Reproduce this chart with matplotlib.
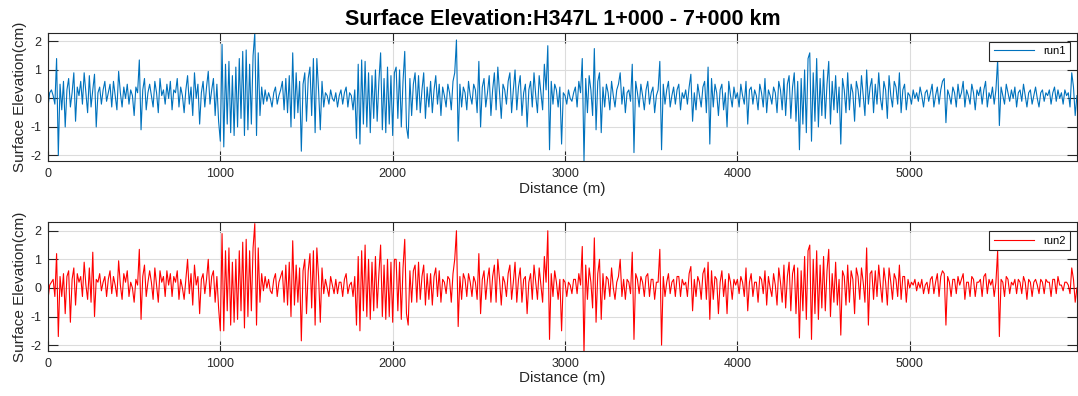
import numpy as np
import matplotlib
matplotlib.use("Agg")
import matplotlib.pyplot as plt

plt.rcParams['font.family'] = ['Liberation Sans', 'DejaVu Sans']
plt.rcParams['axes.unicode_minus'] = False

# sampling step of the profile (m)
step_m = 10

# surface elevation, run 1 (cm), one row = 100 m
run1 = [
    -0.3, 0.2, 0.3, 0.1, -0.2, 1.4, -2.0, 0.5, -0.4, 0.6,
    -1.0, 0.3, 0.7, -0.3, 0.2, 0.9, -0.8, 0.4, 0.1, 0.6,
    -0.2, 0.9, 0.2, -0.5, 0.8, -0.3, 0.3, 0.85, -1.0, 0.2,
    0.4, -0.2, 0.3, 0.6, -0.1, 0.2, 0.5, -0.3, 0.6, 0.1,
    -0.4, 0.95, 0.2, -0.3, 0.4, 0.0, 0.5, -0.2, 0.3, 0.1,
    -0.6, 0.4, 0.2, 1.35, -1.1, 0.3, 0.7, -0.4, 0.2, 0.5,
    0.1, -0.3, 0.6, 0.2, -0.5, 0.7, 0.1, 0.3, -0.2, 0.5,
    0.0, 0.6, -0.4, 0.3, 0.2, 0.7, -0.3, 0.4, 0.1, -0.5,
    0.3, 0.8, -0.2, 0.4, -0.6, 0.9, 0.0, 0.5, -0.9, 0.2,
    0.6, -0.3, 0.4, 0.95, -0.2, 0.3, 0.7, -0.6, 0.5, -0.8,
    -1.5, 1.9, -1.7, 1.2, -0.9, 1.3, -1.2, 0.8, -1.3, 1.1,
    -1.0, 1.4, -0.7, 1.65, -1.3, 1.7, -1.1, 1.2, -0.9, 1.5,
    2.3, -1.3, 1.6, -0.6, 0.4, -0.2, 0.3, -0.1, 0.2, 0.0,
    -0.3, 0.2, 0.4, -0.2, 0.1, 0.3, 0.6, -0.4, 0.7, -0.5,
    0.8, -1.0, 1.6, -0.7, 0.9, -0.5, 0.6, -1.85, 0.5, 0.9,
    -0.8, 0.7, 1.1, -0.6, 1.4, -1.2, 1.4, 0.3, -1.1, 0.6,
    -0.3, 0.2, 0.1, -0.2, 0.3, 0.0, -0.1, 0.2, -0.3, 0.1,
    0.3, -0.2, 0.2, 0.4, -0.3, 0.2, 0.1, -0.4, 0.3, -1.4,
    1.2, -1.6, 1.35, -0.9, 1.3, -1.0, 0.9, -1.2, 0.8, -0.7,
    1.0, -0.8, 0.6, 1.6, -1.1, 0.7, -1.2, 1.1, -0.9, 0.8,
    -1.3, 0.9, 1.1, -0.7, 1.0, -1.0, 0.6, 1.65, -1.0, -1.4,
    0.7, -0.6, 0.5, 0.9, -0.4, 0.8, -0.5, 0.3, 0.9, -0.7,
    0.4, -0.3, 0.6, -0.5, 0.3, 0.8, -0.2, 0.5, -0.6, 0.4,
    0.1, -0.3, 0.5, 0.2, -0.4, 0.6, 0.9, 2.05, -1.5, 0.5,
    -0.3, 0.4, 0.2, -0.4, 0.6, 0.1, -0.2, 0.5, 0.3, -0.5,
    1.3, -1.0, 0.4, 0.7, -0.3, 0.2, 0.8, -0.6, 0.3, 0.9,
    -0.4, 1.1, 0.2, -0.7, 0.5, 0.3, -0.2, 0.6, 0.9, -0.5,
    0.3, 1.0, -0.4, 0.4, 0.8, -0.6, 0.2, 0.5, -1.0, 0.3,
    0.6, -0.3, 0.9, 0.1, -0.5, 0.8, 0.2, -0.4, 1.2, 0.3,
    1.85, -1.8, 0.6, -0.2, 0.5, 0.3, -0.3, 0.4, -1.6, 0.2,
    0.1, -0.2, 0.3, 0.0, -0.1, 0.2, 0.4, -0.3, 0.6, 0.2,
    1.4, -2.2, 0.7, -0.5, 0.8, 0.3, -0.6, 1.75, -1.1, 0.6,
    0.9, -1.2, 0.4, -0.3, 0.5, 0.2, -0.4, 0.6, 0.1, -0.3,
    0.3, 0.5, 0.9, -0.2, 0.4, -0.5, 0.2, 0.3, -0.1, 1.2,
    -1.9, 0.6, 0.2, -0.3, 0.5, 0.1, -0.4, 0.3, 0.6, -0.2,
    0.2, 0.4, -0.5, 0.1, 0.3, 1.3, -1.8, 0.5, -0.2, 0.3,
    0.6, -0.3, 0.1, 0.4, -0.2, 0.3, 0.5, -0.4, 0.2, 0.0,
    0.3, -0.2, 0.4, 0.85, -0.8, 0.2, -0.4, 0.5, 0.1, -0.3,
    0.4, 0.6, -0.5, 1.1, -1.6, 0.7, -0.3, 0.5, 0.2, -0.6,
    0.3, 0.5, -0.4, 0.2, -1.0, 0.6, 0.1, -0.3, 0.4, 0.0,
    0.2, -0.3, 0.5, 0.1, -0.2, 0.6, -0.9, 0.3, 0.4, -0.2,
    0.3, 0.1, -0.4, 0.5, 0.2, -0.3, 0.7, -0.5, 0.3, 0.1,
    -0.2, 0.4, 0.2, -0.5, 0.6, 0.3, -0.4, 0.7, -0.6, 0.5,
    0.8, -0.7, 0.4, 0.9, -0.8, 0.6, -1.8, 0.7, -0.9, 1.0,
    -1.2, 1.4, 1.6, -1.5, 0.9, -0.8, 1.4, -1.0, 0.7, -0.6,
    1.0, -0.7, 0.5, 1.3, -0.9, 0.6, -0.4, 0.8, -0.5, 0.4,
    -1.6, 0.7, 0.3, -0.5, 0.9, -0.4, 0.5, 0.2, -0.8, 0.6,
    0.3, -0.3, 0.8, 0.1, -0.6, 1.0, -0.2, 0.4, 0.7, -0.5,
    0.5, -0.2, 0.9, 0.0, -0.4, 0.6, 0.3, -0.7, 0.8, 0.1,
    -0.3, 0.6, 0.4, -0.2, 0.9, -0.5, 0.3, 0.5, -0.4, 0.2,
    0.1, -0.2, 0.3, 0.0, 0.2, -0.1, 0.4, 0.1, -0.3, 0.2,
    0.3, -0.1, 0.2, 0.5, -0.3, 0.1, 0.4, -0.2, 0.3, 0.6,
    0.7, -0.85, 0.3, 0.1, -0.2, 0.4, 0.2, -0.3, 0.5, 0.0,
    0.2, 0.6, -0.3, 0.3, 0.1, -0.2, 0.5, 0.2, -0.4, 0.3,
    0.1, 0.4, -0.2, 0.3, 0.6, -0.3, 0.2, 0.0, 0.4, -0.2,
    0.3, 1.35, -0.95, 0.4, 0.1, -0.2, 0.5, 0.2, -0.1, 0.3,
    0.0, 0.4, -0.3, 0.2, 0.3, -0.1, 0.5, 0.1, -0.3, 0.2,
    0.3, -0.2, 0.1, 0.4, 0.0, -0.3, 0.2, 0.3, -0.1, 0.2,
    0.1, 0.3, -0.2, 0.2, 0.4, -0.1, 0.3, 0.0, 0.2, -0.2,
    0.3, 0.1, 0.2, -0.3, 0.9, 0.4, -0.6, 0.1,
]

# surface elevation, run 2 (cm)
run2 = [
    -0.4, 0.1, 0.2, 0.3, -0.3, 1.2, -1.7, 0.4, -0.3, 0.5,
    -0.9, 0.4, 0.6, -1.2, 0.3, 0.7, -0.6, 0.5, 0.2, 0.4,
    -0.3, 0.9, 0.1, -0.4, 0.7, -0.5, 1.25, -1.0, 0.3, 0.2,
    0.5, -0.1, 0.2, 0.4, -0.3, 0.3, 0.6, -0.2, 0.4, 0.1,
    -0.3, 0.95, 0.1, -0.4, 0.5, 0.2, 0.6, -0.3, 0.2, 0.0,
    -0.5, 0.3, 0.1, 1.35, -1.1, 0.4, 0.8, -0.3, 0.2, 0.6,
    0.2, -0.4, 0.7, 0.1, -0.5, 0.6, 0.2, 0.4, -0.3, 0.6,
    0.1, 0.5, -0.3, 0.4, 0.2, 0.6, -0.4, 0.3, 0.0, -0.4,
    0.3, 1.0, -0.2, 0.5, -0.6, 0.8, 0.1, 0.4, -0.9, 0.3,
    0.5, -0.2, 0.3, 1.0, -0.3, 0.4, 0.6, -0.5, 0.4, -0.7,
    -1.5, 1.9, -1.5, 1.3, -0.8, 1.4, -1.3, 0.9, -1.2, 1.0,
    -1.1, 1.3, -0.8, 1.6, -1.4, 1.7, -1.0, 1.3, -0.8, 1.4,
    2.25, -1.3, 1.4, -0.5, 0.5, -0.1, 0.4, 0.0, 0.3, -0.1,
    -0.2, 0.3, 0.5, -0.3, 0.2, 0.4, 0.6, -0.5, 0.8, -0.6,
    0.9, -1.0, 1.65, -0.6, 0.8, -0.5, 0.7, -1.85, 0.6, 1.0,
    -0.9, 0.6, 1.2, -0.7, 1.3, -1.3, 1.4, 0.4, -1.2, 0.7,
    -0.2, 0.3, 0.0, -0.3, 0.4, 0.1, -0.2, 0.3, -0.2, 0.2,
    0.2, -0.3, 0.3, 0.5, -0.2, 0.1, 0.2, -0.3, 0.4, -1.3,
    1.1, -1.5, 1.3, -0.8, 1.5, -1.0, 1.0, -1.1, 0.9, -0.8,
    1.1, -0.7, 0.5, 1.5, -1.0, 0.8, -1.1, 1.0, -1.0, 0.9,
    -1.2, 1.0, 1.0, -0.8, 0.9, -1.1, 0.7, 1.7, -0.9, -1.3,
    0.6, -0.5, 0.6, 0.8, -0.5, 0.9, -0.4, 0.4, 0.8, -0.6,
    0.5, -0.4, 0.5, -0.6, 0.4, 0.7, -0.3, 0.6, -0.5, 0.3,
    0.2, -0.2, 0.4, 0.3, -0.5, 0.5, 1.0, 2.0, -1.35, 0.4,
    -0.4, 0.5, 0.3, -0.3, 0.5, 0.2, -0.3, 0.4, 0.2, -0.4,
    1.2, -0.9, 0.3, 0.6, -0.4, 0.3, 0.7, -0.5, 0.4, 0.8,
    -0.5, 1.0, 0.3, -0.6, 0.4, 0.2, -0.3, 0.5, 0.8, -0.4,
    0.2, 0.9, -0.5, 0.3, 0.7, -0.5, 0.3, 0.4, -0.9, 0.2,
    0.5, -0.4, 0.8, 0.2, -0.4, 0.7, 0.1, -0.5, 1.1, 0.2,
    2.0, -1.8, 0.5, -0.3, 0.6, 0.2, -0.4, 0.3, -1.5, 0.3,
    0.2, -0.3, 0.2, 0.1, -0.2, 0.3, 0.3, -0.2, 0.5, 0.1,
    1.45, -2.3, 0.8, -0.4, 0.7, 0.2, -0.7, 1.75, -1.2, 0.5,
    1.0, -1.1, 0.5, -0.4, 0.4, 0.3, -0.3, 0.7, 0.0, -0.4,
    0.2, 0.4, 1.0, -0.3, 0.3, -0.4, 0.3, 0.2, -0.2, 1.25,
    -1.8, 0.5, 0.3, -0.2, 0.4, 0.2, -0.3, 0.4, 0.5, -0.3,
    0.3, 0.3, -0.4, 0.2, 0.2, 1.35, -2.0, 0.4, -0.3, 0.2,
    0.5, -0.2, 0.2, 0.3, -0.3, 0.4, 0.4, -0.3, 0.3, 0.1,
    0.2, -0.3, 0.5, 0.75, -0.8, 0.3, -0.3, 0.4, 0.2, -0.4,
    0.5, 0.7, -0.4, 0.9, -1.1, 0.6, -0.4, 0.4, 0.3, -0.9,
    0.2, 0.6, -0.3, 0.3, -0.9, 0.5, 0.2, -0.4, 0.3, 0.1,
    0.3, -0.2, 0.4, 0.2, -0.3, 0.7, -0.8, 0.2, 0.5, -0.3,
    0.2, 0.2, -0.5, 0.4, 0.3, -0.2, 0.6, -0.6, 0.4, 0.0,
    -0.3, 0.5, 0.1, -0.6, 0.7, 0.2, -0.5, 0.8, -0.7, 0.4,
    0.9, -0.8, 0.5, 0.8, -0.9, 0.7, -1.75, 0.6, -0.8, 1.1,
    -1.1, 1.3, 1.5, -1.8, 1.0, -0.9, 1.3, -1.1, 0.8, -0.7,
    1.1, -0.8, 0.6, 1.35, -1.0, 0.5, -0.5, 0.9, -0.6, 0.3,
    -1.65, 0.6, 0.4, -0.6, 0.8, -0.5, 0.6, 0.3, -0.9, 0.7,
    0.4, -0.4, 0.7, 0.2, -0.5, 1.4, -1.3, 0.5, 0.6, -0.4,
    0.6, -0.3, 0.8, 0.1, -0.5, 0.7, 0.2, -0.6, 0.7, 0.2,
    -0.4, 0.5, 0.3, -0.3, 0.8, -0.4, 0.4, 0.4, -0.5, 0.3,
    0.0, 0.2, 0.1, 0.3, -0.1, 0.2, 0.0, 0.3, -0.2, 0.1,
    0.2, -0.2, 0.3, 0.4, -0.2, 0.2, 0.5, -0.3, 0.4, 0.6,
    0.5, -1.3, 0.4, 0.2, -0.3, 0.3, 0.3, -0.2, 0.4, 0.1,
    0.3, 0.5, -0.4, 0.2, 0.2, -0.3, 0.4, 0.3, -0.3, 0.2,
    0.2, 0.3, -0.3, 0.4, 0.5, -0.2, 0.3, 0.1, 0.3, -0.3,
    0.2, 1.3, -1.7, 0.3, 0.2, -0.3, 0.4, 0.3, -0.2, 0.2,
    0.1, 0.3, -0.2, 0.3, 0.2, -0.2, 0.4, 0.2, -0.4, 0.3,
    0.2, -0.3, 0.2, 0.3, 0.1, -0.2, 0.3, 0.2, -0.2, 0.3,
    0.2, 0.2, -0.3, 0.3, 0.3, -0.2, 0.4, 0.1, 0.1, -0.1,
    0.2, 0.2, 0.1, -0.2, 0.7, 0.3, -0.5, 0.0,
]

runs = [("run1", run1, "#0072BD"), ("run2", run2, "#FF0000")]
title = "Surface Elevation:H347L 1+000 - 7+000 km"
yticks = [-2, -1, 0, 1, 2]
xticks = [0, 1000, 2000, 3000, 4000, 5000]

fig = plt.figure(figsize=(10.78, 3.96), dpi=100)
axes_boxes = [[0.0445, 0.593, 0.9545, 0.324], [0.0445, 0.114, 0.9545, 0.325]]

for (name, vals, col), box in zip(runs, axes_boxes):
    ax = fig.add_axes(box)
    vals = np.array(vals)
    dist = np.arange(len(vals)) * step_m
    ax.plot(dist, vals, color=col, lw=0.8, label=name)
    ax.set_xlim(0, 5970)
    ax.set_ylim(-2.2, 2.3)
    ax.set_xticks(xticks)
    ax.set_yticks(yticks)
    ax.grid(True, color='#dcdcdc', lw=0.8)
    ax.set_axisbelow(True)
    ax.tick_params(direction='in', length=7, width=0.8, top=True, right=True,
                   labelsize=9, colors='#262626', pad=5)
    for sp in ax.spines.values():
        sp.set_color('#262626')
        sp.set_linewidth(0.8)
    ax.set_xlabel('Distance (m)', fontsize=11, color='#262626', labelpad=1)
    ax.set_ylabel('Surface Elevation(cm)', fontsize=11, color='#262626', labelpad=2)
    leg = ax.legend(loc='upper right', bbox_to_anchor=(0.993, 0.93), fontsize=8,
                    fancybox=False, framealpha=1, edgecolor='#262626',
                    handlelength=3.6, borderpad=0.4, borderaxespad=0)
    leg.get_frame().set_linewidth(0.8)
    if name == "run1":
        ax.set_title(title, fontsize=15.5, fontweight='bold', pad=6)

fig.savefig("out.png", dpi=100)
